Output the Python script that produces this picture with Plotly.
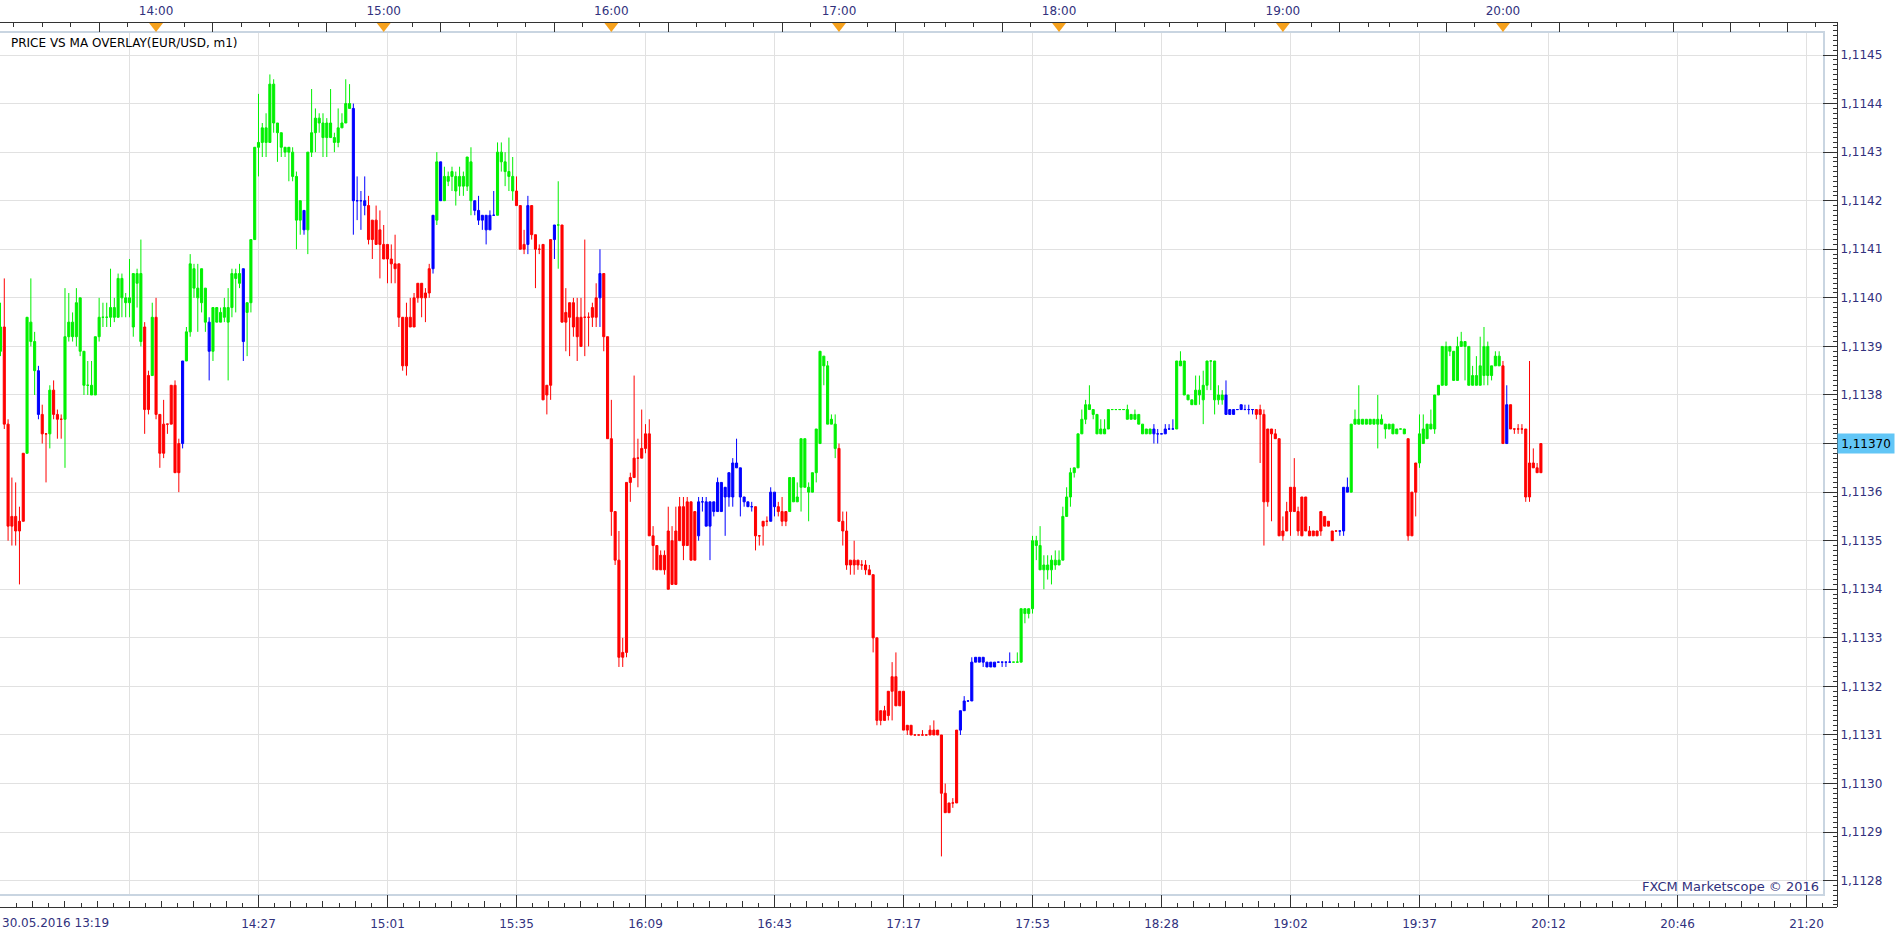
import plotly.graph_objects as go

# ---------------- data (prices in 1e-5 units, one 1-minute bar per entry) ----------------
colors = (
    "g r r r r r r g g g  b r r g r r r g g g  g g g g g g g g g g  g g g g g g g g r r "
    "g r r r r r r r b g  g g g g g b g g g g  g g g g b g g g g g  g g g g g g g g g g "
    "b g g g g g g g g g  g g g b b b b r r r  r r r r r r r r r r  r r r r b g b g g g "
    "g g g g g b b b b b  b g g g g g r r r b  r r r r r r b g r r  r r r r r r r r b r "
    "r r r r r r r r r r  r r r r r r r r r r  r r r r b b b b b b  b b b b b b b b b r "
    "r r r b b r r r g g  g g g g g g g g g g  g r r r r r r r r r  r r r r r r r r r r "
    "r r r r r r r r r r  r r r b b b b b b b  b b b b b b b g g g  g g g g g g g g g g "
    "g g g g g g g g g g  g g g g g g g g g g  g g g g b b b b b b  g g g g g g g g g g "
    "g g g b b b b b b b  b r r r r r r r r r  r r r r r r r r r r  r r r b b b g g g g "
    "g g g g g g g g g g  g r r r g g g g g g  g g g g g g g g g g  g g g g g g r b r r "
    "r r r r r r r"
).split()

opens = [
    111389, 111394, 111374, 111353, 111355, 111352, 111354, 111368, 111395, 111391,
    111385, 111376, 111372, 111372, 111381, 111376, 111375, 111375, 111392, 111395,
    111392, 111400, 111389, 111382, 111382, 111380, 111392, 111396, 111396, 111396,
    111398, 111396, 111404, 111400, 111399, 111394, 111405, 111405, 111394, 111384,
    111384, 111396, 111376, 111374, 111374, 111382, 111382, 111370, 111370, 111387,
    111393, 111402, 111400, 111399, 111402, 111395, 111389, 111395, 111395, 111396,
    111395, 111398, 111404, 111403, 111406, 111397, 111399, 111412, 111431, 111432,
    111432, 111432, 111444, 111436, 111434, 111431, 111430, 111430, 111425, 111416,
    111418, 111414, 111430, 111434, 111437, 111436, 111433, 111436, 111433, 111432,
    111435, 111436, 111440, 111439, 111420, 111420, 111420, 111419, 111416, 111416,
    111414, 111411, 111411, 111408, 111407, 111407, 111396, 111396, 111396, 111400,
    111403, 111403, 111401, 111401, 111406, 111416, 111428, 111420, 111425, 111425,
    111425, 111423, 111425, 111423, 111428, 111420, 111418, 111416, 111417, 111414,
    111417, 111417, 111430, 111428, 111426, 111425, 111422, 111419, 111411, 111411,
    111419, 111413, 111410, 111411, 111382, 111382, 111412, 111415, 111415, 111395,
    111399, 111399, 111396, 111390, 111396, 111396, 111396, 111396, 111400, 111405,
    111392, 111371, 111356, 111346, 111326, 111327, 111362, 111363, 111367, 111367,
    111369, 111372, 111351, 111349, 111344, 111347, 111352, 111341, 111352, 111350,
    111357, 111349, 111358, 111346, 111351, 111358, 111358, 111353, 111358, 111356,
    111362, 111359, 111359, 111359, 111366, 111365, 111359, 111358, 111357, 111357,
    111351, 111353, 111354, 111354, 111360, 111357, 111356, 111354, 111356, 111363,
    111358, 111361, 111371, 111361, 111360, 111364, 111370, 111388, 111386, 111374,
    111374, 111369, 111354, 111352, 111346, 111345, 111346, 111345, 111345, 111344,
    111343, 111330, 111313, 111315, 111314, 111319, 111322, 111316, 111319, 111311,
    111312, 111310, 111310, 111310, 111310, 111310, 111311, 111310, 111310, 111298,
    111294, 111296, 111296, 111311, 111315, 111317, 111317, 111325, 111326, 111325,
    111325, 111324, 111325, 111325, 111325, 111325, 111325, 111325, 111325, 111325,
    111336, 111335, 111336, 111350, 111349, 111344, 111345, 111344, 111346, 111345,
    111346, 111355, 111359, 111364, 111365, 111372, 111375, 111378, 111377, 111376,
    111372, 111373, 111373, 111377, 111377, 111377, 111377, 111377, 111375, 111376,
    111376, 111374, 111372, 111373, 111372, 111372, 111372, 111372, 111373, 111373,
    111373, 111387, 111387, 111380, 111379, 111378, 111381, 111379, 111382, 111387,
    111387, 111379, 111380, 111380, 111376, 111377, 111377, 111377, 111377, 111377,
    111377, 111377, 111377, 111376, 111358, 111373, 111372, 111371, 111351, 111352,
    111356, 111361, 111356, 111351, 111359, 111352, 111351, 111352, 111352, 111355,
    111353, 111352, 111352, 111352, 111352, 111361, 111360, 111374, 111375, 111374,
    111375, 111374, 111375, 111374, 111375, 111374, 111373, 111374, 111372, 111373,
    111373, 111371, 111351, 111360, 111366, 111370, 111371, 111374, 111373, 111380,
    111382, 111390, 111389, 111389, 111383, 111390, 111391, 111390, 111382, 111384,
    111382, 111384, 111390, 111384, 111386, 111388, 111386, 111370, 111378, 111373,
    111373, 111373, 111373, 111359, 111366, 111365, 111364,
]

highs = [
    111399, 111404, 111375, 111363, 111362, 111357, 111368, 111396, 111404, 111393,
    111386, 111378, 111372, 111382, 111383, 111377, 111376, 111402, 111401, 111397,
    111402, 111400, 111389, 111387, 111387, 111392, 111400, 111399, 111399, 111406,
    111400, 111405, 111405, 111401, 111408, 111405, 111406, 111412, 111395, 111385,
    111399, 111400, 111376, 111379, 111374, 111382, 111383, 111371, 111387, 111394,
    111409, 111407, 111407, 111406, 111402, 111396, 111398, 111398, 111398, 111400,
    111402, 111406, 111406, 111407, 111406, 111399, 111412, 111431, 111442, 111436,
    111438, 111446, 111445, 111436, 111434, 111431, 111431, 111431, 111426, 111420,
    111418, 111430, 111443, 111439, 111438, 111438, 111437, 111443, 111434, 111439,
    111438, 111445, 111444, 111440, 111425, 111422, 111425, 111421, 111416, 111419,
    111418, 111415, 111411, 111411, 111413, 111407, 111396, 111399, 111400, 111401,
    111403, 111403, 111402, 111407, 111417, 111430, 111428, 111427, 111426, 111427,
    111426, 111427, 111426, 111429, 111431, 111420, 111421, 111417, 111417, 111418,
    111422, 111432, 111432, 111430, 111433, 111429, 111425, 111419, 111414, 111421,
    111419, 111413, 111411, 111411, 111382, 111412, 111415, 111424, 111415, 111402,
    111399, 111400, 111400, 111400, 111412, 111397, 111399, 111403, 111410, 111405,
    111392, 111379, 111356, 111352, 111330, 111362, 111364, 111384, 111371, 111377,
    111374, 111375, 111353, 111349, 111348, 111348, 111357, 111353, 111357, 111359,
    111359, 111359, 111358, 111356, 111359, 111359, 111359, 111358, 111358, 111363,
    111362, 111361, 111364, 111367, 111371, 111365, 111359, 111358, 111358, 111357,
    111351, 111354, 111355, 111361, 111360, 111358, 111359, 111356, 111363, 111363,
    111362, 111371, 111371, 111362, 111364, 111373, 111389, 111388, 111387, 111376,
    111376, 111370, 111356, 111356, 111346, 111350, 111346, 111346, 111346, 111345,
    111343, 111330, 111315, 111316, 111319, 111325, 111327, 111319, 111319, 111312,
    111312, 111310, 111310, 111311, 111310, 111312, 111313, 111311, 111310, 111300,
    111296, 111297, 111311, 111315, 111318, 111317, 111326, 111326, 111326, 111326,
    111325, 111325, 111325, 111325, 111325, 111325, 111327, 111325, 111327, 111336,
    111336, 111336, 111351, 111351, 111353, 111347, 111347, 111347, 111348, 111348,
    111357, 111361, 111365, 111365, 111372, 111377, 111379, 111382, 111377, 111376,
    111375, 111375, 111377, 111377, 111377, 111377, 111377, 111378, 111376, 111377,
    111376, 111374, 111373, 111373, 111374, 111373, 111372, 111374, 111374, 111375,
    111387, 111389, 111387, 111380, 111379, 111384, 111384, 111385, 111387, 111387,
    111387, 111382, 111381, 111383, 111377, 111377, 111377, 111378, 111378, 111378,
    111377, 111377, 111378, 111377, 111373, 111373, 111373, 111371, 111355, 111358,
    111361, 111367, 111357, 111359, 111359, 111353, 111352, 111352, 111356, 111355,
    111354, 111352, 111352, 111352, 111361, 111363, 111374, 111377, 111382, 111375,
    111375, 111375, 111375, 111380, 111376, 111374, 111374, 111374, 111373, 111373,
    111373, 111371, 111360, 111366, 111376, 111376, 111374, 111377, 111380, 111382,
    111390, 111391, 111390, 111389, 111392, 111393, 111391, 111390, 111386, 111388,
    111392, 111394, 111391, 111386, 111389, 111389, 111387, 111382, 111378, 111373,
    111374, 111374, 111373, 111387, 111369, 111366, 111370,
]

lows = [
    111388, 111373, 111350, 111349, 111349, 111341, 111354, 111368, 111390, 111380,
    111375, 111370, 111362, 111369, 111375, 111371, 111371, 111365, 111391, 111391,
    111390, 111388, 111380, 111380, 111380, 111380, 111391, 111394, 111394, 111394,
    111395, 111396, 111396, 111396, 111396, 111392, 111398, 111390, 111372, 111376,
    111384, 111375, 111365, 111367, 111372, 111374, 111364, 111360, 111369, 111387,
    111392, 111400, 111393, 111397, 111393, 111383, 111387, 111395, 111395, 111395,
    111383, 111396, 111397, 111402, 111387, 111388, 111397, 111412, 111425, 111429,
    111429, 111432, 111434, 111428, 111429, 111429, 111424, 111424, 111410, 111413,
    111413, 111409, 111429, 111430, 111434, 111429, 111429, 111433, 111430, 111431,
    111435, 111436, 111439, 111413, 111416, 111414, 111417, 111411, 111408, 111411,
    111404, 111408, 111403, 111403, 111403, 111394, 111385, 111384, 111394, 111394,
    111399, 111396, 111395, 111400, 111405, 111415, 111420, 111420, 111423, 111422,
    111419, 111421, 111421, 111422, 111417, 111417, 111415, 111414, 111411, 111414,
    111417, 111417, 111426, 111423, 111422, 111420, 111419, 111410, 111409, 111409,
    111412, 111402, 111409, 111379, 111376, 111379, 111408, 111406, 111395, 111389,
    111388, 111392, 111387, 111390, 111388, 111390, 111394, 111394, 111394, 111389,
    111371, 111351, 111345, 111324, 111324, 111326, 111358, 111363, 111361, 111367,
    111368, 111351, 111344, 111344, 111344, 111343, 111340, 111341, 111341, 111350,
    111346, 111349, 111346, 111346, 111350, 111356, 111353, 111346, 111355, 111356,
    111356, 111351, 111357, 111357, 111365, 111355, 111357, 111357, 111356, 111348,
    111349, 111349, 111353, 111354, 111355, 111355, 111353, 111353, 111356, 111358,
    111358, 111356, 111361, 111354, 111360, 111362, 111370, 111382, 111374, 111374,
    111367, 111354, 111349, 111344, 111343, 111343, 111344, 111344, 111343, 111343,
    111327, 111312, 111312, 111313, 111313, 111313, 111316, 111316, 111311, 111310,
    111310, 111310, 111310, 111310, 111310, 111310, 111310, 111310, 111285, 111294,
    111294, 111295, 111296, 111310, 111315, 111317, 111317, 111325, 111325, 111324,
    111324, 111324, 111324, 111325, 111324, 111324, 111325, 111325, 111325, 111325,
    111333, 111334, 111335, 111346, 111344, 111340, 111342, 111341, 111344, 111345,
    111346, 111355, 111357, 111363, 111365, 111372, 111374, 111377, 111375, 111372,
    111372, 111372, 111373, 111377, 111377, 111377, 111377, 111375, 111375, 111375,
    111374, 111372, 111372, 111372, 111370, 111370, 111372, 111372, 111373, 111373,
    111373, 111386, 111380, 111379, 111378, 111378, 111378, 111374, 111381, 111381,
    111376, 111378, 111378, 111376, 111376, 111376, 111377, 111377, 111377, 111376,
    111376, 111375, 111366, 111349, 111357, 111354, 111371, 111351, 111350, 111352,
    111351, 111356, 111351, 111351, 111352, 111351, 111351, 111351, 111351, 111353,
    111353, 111350, 111352, 111351, 111351, 111360, 111360, 111374, 111374, 111374,
    111374, 111374, 111374, 111369, 111374, 111371, 111373, 111372, 111372, 111373,
    111372, 111350, 111351, 111355, 111365, 111370, 111371, 111373, 111372, 111380,
    111382, 111382, 111388, 111383, 111383, 111390, 111383, 111382, 111382, 111382,
    111382, 111382, 111382, 111383, 111386, 111386, 111370, 111370, 111373, 111372,
    111372, 111372, 111358, 111358, 111365, 111364, 111364,
]

closes = [
    111394, 111374, 111353, 111355, 111352, 111354, 111368, 111396, 111391, 111385,
    111376, 111372, 111372, 111381, 111376, 111375, 111375, 111392, 111395, 111392,
    111399, 111389, 111382, 111382, 111380, 111392, 111396, 111396, 111396, 111398,
    111396, 111404, 111400, 111399, 111400, 111405, 111403, 111391, 111377, 111377,
    111396, 111376, 111368, 111368, 111374, 111374, 111364, 111364, 111387, 111393,
    111407, 111406, 111402, 111406, 111395, 111389, 111398, 111398, 111397, 111398,
    111398, 111405, 111405, 111405, 111391, 111399, 111412, 111431, 111432, 111435,
    111435, 111444, 111436, 111434, 111431, 111430, 111431, 111425, 111416, 111420,
    111414, 111430, 111434, 111437, 111436, 111433, 111436, 111433, 111432, 111435,
    111436, 111440, 111439, 111420, 111420, 111420, 111419, 111412, 111412, 111411,
    111411, 111408, 111408, 111407, 111406, 111396, 111386, 111386, 111394, 111394,
    111400, 111400, 111400, 111406, 111417, 111428, 111420, 111425, 111424, 111426,
    111422, 111425, 111423, 111429, 111420, 111418, 111416, 111417, 111414, 111417,
    111417, 111430, 111428, 111426, 111425, 111422, 111419, 111410, 111410, 111419,
    111413, 111410, 111410, 111379, 111380, 111412, 111415, 111415, 111395, 111397,
    111396, 111394, 111392, 111396, 111396, 111396, 111398, 111400, 111405, 111392,
    111371, 111356, 111346, 111326, 111327, 111362, 111363, 111367, 111367, 111369,
    111372, 111351, 111349, 111344, 111347, 111344, 111340, 111350, 111341, 111357,
    111349, 111358, 111346, 111356, 111358, 111358, 111353, 111358, 111356, 111362,
    111356, 111361, 111364, 111366, 111365, 111359, 111358, 111357, 111357, 111351,
    111351, 111354, 111354, 111360, 111357, 111356, 111354, 111356, 111363, 111358,
    111359, 111371, 111361, 111360, 111364, 111373, 111389, 111386, 111374, 111375,
    111369, 111354, 111352, 111345, 111345, 111346, 111345, 111345, 111344, 111343,
    111330, 111313, 111315, 111313, 111319, 111322, 111316, 111319, 111311, 111312,
    111310, 111310, 111310, 111310, 111310, 111311, 111310, 111311, 111298, 111294,
    111296, 111296, 111311, 111315, 111317, 111317, 111325, 111326, 111325, 111326,
    111324, 111325, 111324, 111325, 111325, 111325, 111325, 111325, 111325, 111336,
    111335, 111336, 111350, 111349, 111344, 111345, 111344, 111346, 111345, 111346,
    111355, 111359, 111364, 111365, 111372, 111375, 111378, 111377, 111376, 111372,
    111373, 111372, 111377, 111377, 111377, 111377, 111377, 111375, 111376, 111375,
    111374, 111372, 111373, 111372, 111373, 111372, 111372, 111373, 111373, 111373,
    111387, 111386, 111380, 111379, 111378, 111381, 111380, 111382, 111387, 111387,
    111379, 111380, 111379, 111376, 111377, 111376, 111377, 111378, 111377, 111377,
    111377, 111376, 111376, 111358, 111373, 111372, 111371, 111351, 111352, 111356,
    111361, 111356, 111352, 111359, 111352, 111351, 111352, 111351, 111356, 111353,
    111354, 111350, 111352, 111352, 111361, 111360, 111374, 111375, 111374, 111375,
    111374, 111375, 111374, 111375, 111374, 111373, 111374, 111372, 111373, 111373,
    111372, 111351, 111360, 111366, 111372, 111373, 111374, 111373, 111380, 111382,
    111390, 111382, 111390, 111383, 111390, 111391, 111390, 111382, 111384, 111382,
    111386, 111390, 111384, 111386, 111388, 111386, 111370, 111378, 111373, 111373,
    111373, 111373, 111359, 111366, 111365, 111364, 111370,
]

PRICE_UNIT = 1e-5

# bottom time axis: one label every 34 bars
bottom_labels = ["30.05.2016 13:19", "", "14:27", "15:01", "15:35", "16:09", "16:43", "17:17",
                 "17:53", "18:28", "19:02", "19:37", "20:12", "20:46", "21:20"]
BARS_PER_LABEL = 34
# top time axis: hour marks (bar index of each full hour)
hour_labels = ["14:00", "15:00", "16:00", "17:00", "18:00", "19:00", "20:00"]
hour_bar_index = [41, 101, 161, 221, 279, 338, 396]
future_hour_bar_index = [456]

# price grid
price_ticks = [1.1128 + 0.0001 * i for i in range(18)]

# ---------------- geometry / style ----------------
PAGE_W, PAGE_H = 1903, 937
M_L, M_R, M_T, M_B = 0, 66, 22, 30
PAPER_W = PAGE_W - M_L - M_R
PAPER_H = PAGE_H - M_T - M_B
FRAME_R, FRAME_T, FRAME_B = 1823, 33, 894
BAR_PX = 129 / 34
X0 = -0.13
PIP, PIP_PX, REF_PRICE, REF_Y = 0.0001, 48.57, 1.1145, 55

def y_at(px):
    return REF_PRICE + (REF_Y - px) / PIP_PX * PIP

def paper_y(px):
    return (PAGE_H - M_B - px) / PAPER_H

TXT = "#31317d"
AX = "#333333"
FRAME = "#c9d5e1"
GRID = "#e1e1e1"
FONT = "DejaVu Sans"
COLOR_MAP = {"g": "#00f000", "r": "#ff0000", "b": "#0000ff"}

n = len(opens)
assert len(highs) == n and len(lows) == n and len(closes) == n and len(colors) == n, \
    (len(opens), len(highs), len(lows), len(closes), len(colors))

fig = go.Figure()

for code, col in COLOR_MAP.items():
    idx = [i for i in range(n) if colors[i] == code]
    fig.add_trace(go.Candlestick(
        x=idx,
        open=[opens[i] * PRICE_UNIT for i in idx],
        high=[highs[i] * PRICE_UNIT for i in idx],
        low=[lows[i] * PRICE_UNIT for i in idx],
        close=[closes[i] * PRICE_UNIT for i in idx],
        increasing=dict(line=dict(color=col, width=1), fillcolor=col),
        decreasing=dict(line=dict(color=col, width=1), fillcolor=col),
        whiskerwidth=0, showlegend=False, hoverinfo="skip",
    ))

# hour markers (orange triangles) on the top time axis
fig.add_trace(go.Scatter(
    x=hour_bar_index, y=[y_at(M_T + 4)] * len(hour_bar_index),
    xaxis="x2", yaxis="y2", mode="markers", cliponaxis=False,
    marker=dict(symbol="triangle-down", size=12, color="#f6a11c", line=dict(width=0)),
    showlegend=False, hoverinfo="skip",
))
for ax in ["x3", "x4", "x5"]:
    fig.add_trace(go.Scatter(x=[None], y=[None], xaxis=ax, yaxis="y2",
                             showlegend=False, hoverinfo="skip"))

x_main_range = [X0, X0 + FRAME_R / BAR_PX]
x_full_range = [X0, X0 + PAPER_W / BAR_PX]
x_end = x_full_range[1]

grid_x = [BARS_PER_LABEL * k for k in range(len(bottom_labels))]
minor_bottom = [i * BARS_PER_LABEL / 8 for i in range(int(x_end / (BARS_PER_LABEL / 8)) + 1)]
medium_bottom = [i * BARS_PER_LABEL / 4 for i in range(int(x_end / (BARS_PER_LABEL / 4)) + 1)]

hours_ext = [hour_bar_index[0] - 60] + hour_bar_index + future_hour_bar_index + [future_hour_bar_index[-1] + 60]
top_minor = sorted({h + 7.5 * j for h in hours_ext for j in range(-4, 4)})
top_minor = [v for v in top_minor if x_full_range[0] <= v <= x_end and v not in hour_bar_index]
top_long = sorted({h + 15 * s for h in hours_ext for s in (-1, 1)} | set(future_hour_bar_index))
top_long = [v for v in top_long if x_full_range[0] <= v <= x_end]

last_close = closes[-1] * PRICE_UNIT
y_ticktext = [("" if abs(v - round(last_close, 4)) < 1e-9 else f"{v:.4f}".replace(".", ","))
              for v in price_ticks]

tickfont = dict(family=FONT, size=12, color=TXT)

fig.update_layout(
    width=PAGE_W, height=PAGE_H,
    margin=dict(l=M_L, r=M_R, t=M_T, b=M_B, pad=0),
    paper_bgcolor="white", plot_bgcolor="rgba(0,0,0,0)",
    font=dict(family=FONT, size=12, color=TXT),
    hovermode=False, showlegend=False,
    boxgap=0.45, boxgroupgap=0,
    xaxis=dict(
        domain=[0, FRAME_R / PAPER_W], range=x_main_range, anchor="y",
        tickmode="array", tickvals=grid_x, showticklabels=False, ticks="",
        showgrid=True, gridcolor=GRID, gridwidth=1, zeroline=False,
        showline=True, mirror=True, linecolor=FRAME, linewidth=2,
        rangeslider=dict(visible=False), fixedrange=True,
    ),
    yaxis=dict(
        domain=[paper_y(FRAME_B), paper_y(FRAME_T)],
        range=[y_at(FRAME_B), y_at(FRAME_T)], anchor="x",
        tickmode="array", tickvals=price_ticks, showticklabels=False, ticks="",
        showgrid=True, gridcolor=GRID, gridwidth=1, zeroline=False,
        showline=True, mirror=True, linecolor=FRAME, linewidth=2, fixedrange=True,
    ),
    xaxis2=dict(
        domain=[0, 1], range=x_full_range, anchor="free", position=1, side="top",
        tickmode="array", tickvals=hour_bar_index, ticktext=hour_labels,
        ticks="", tickfont=tickfont, ticklabelstandoff=2,
        showgrid=False, zeroline=False, showline=True, linecolor=AX, linewidth=1,
        minor=dict(tickmode="array", tickvals=top_minor, ticks="inside", ticklen=4,
                   tickcolor=AX, tickwidth=1, showgrid=False),
        fixedrange=True,
    ),
    xaxis4=dict(
        overlaying="x2", range=x_full_range, anchor="free", position=1, side="top",
        tickmode="array", tickvals=top_long, showticklabels=False,
        ticks="inside", ticklen=9, tickcolor=AX, tickwidth=1,
        showgrid=False, zeroline=False, showline=False, fixedrange=True,
    ),
    xaxis3=dict(
        overlaying="x2", range=x_full_range, anchor="free", position=0, side="bottom",
        tickmode="array", tickvals=grid_x[1:], ticktext=bottom_labels[1:],
        ticks="inside", ticklen=12, tickcolor=AX, tickwidth=1,
        tickfont=tickfont, ticklabelstandoff=6,
        showgrid=False, zeroline=False, showline=True, linecolor=AX, linewidth=1,
        minor=dict(tickmode="array", tickvals=minor_bottom, ticks="inside", ticklen=4,
                   tickcolor=AX, tickwidth=1, showgrid=False),
        fixedrange=True,
    ),
    xaxis5=dict(
        overlaying="x2", range=x_full_range, anchor="free", position=0, side="bottom",
        tickmode="array", tickvals=medium_bottom, showticklabels=False,
        ticks="inside", ticklen=6, tickcolor=AX, tickwidth=1,
        showgrid=False, zeroline=False, showline=False, fixedrange=True,
    ),
    yaxis2=dict(
        domain=[0, 1], range=[y_at(PAGE_H - M_B), y_at(M_T)],
        anchor="free", position=1, side="right",
        tickmode="array", tickvals=price_ticks, ticktext=y_ticktext,
        ticks="inside", ticklen=14, tickcolor=AX, tickwidth=1, tickfont=tickfont,
        showgrid=False, zeroline=False, showline=True, linecolor=AX, linewidth=1,
        minor=dict(tickmode="linear", tick0=1.1128, dtick=0.00001, ticks="inside",
                   ticklen=4, tickcolor=AX, tickwidth=1, showgrid=False),
        fixedrange=True,
    ),
    annotations=[
        dict(text="PRICE VS MA OVERLAY(EUR/USD, m1)", xref="paper", yref="paper",
             x=9 / PAPER_W, y=paper_y(43), xanchor="left", yanchor="middle",
             showarrow=False, font=dict(family=FONT, size=12, color="#000000")),
        dict(text=bottom_labels[0], xref="paper", yref="paper",
             x=0, y=paper_y(923), xanchor="left", yanchor="middle",
             showarrow=False, font=tickfont),
        dict(text="FXCM Marketscope \u00a9 2016", xref="paper", yref="paper",
             x=1821 / PAPER_W, y=paper_y(886), xanchor="right", yanchor="middle",
             showarrow=False, font=dict(family=FONT, size=13, color=TXT)),
        dict(text=f"{last_close:.5f}".replace(".", ","), xref="paper", yref="y",
             x=1, y=last_close, xanchor="left", yanchor="middle", showarrow=False,
             bgcolor="#62c6f6", borderpad=2, width=52, height=15,
             font=dict(family=FONT, size=12, color="#000000")),
    ],
)

fig.write_html("out.html", config={"displayModeBar": False})
